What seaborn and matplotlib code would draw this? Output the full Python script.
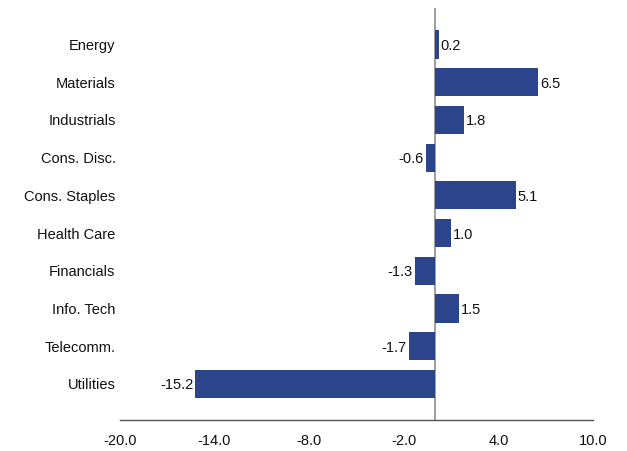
import matplotlib
matplotlib.use("Agg")
import matplotlib.pyplot as plt
import seaborn as sns
import pandas as pd

sectors = ["Energy", "Materials", "Industrials", "Cons. Disc.", "Cons. Staples",
           "Health Care", "Financials", "Info. Tech", "Telecomm.", "Utilities"]
values = [0.2, 6.5, 1.8, -0.6, 5.1, 1.0, -1.3, 1.5, -1.7, -15.2]
xticks = [-20.0, -14.0, -8.0, -2.0, 4.0, 10.0]

sns.set_theme(style="white")
plt.rcParams["font.family"] = ["Liberation Sans", "DejaVu Sans"]

df = pd.DataFrame({"sector": sectors, "value": values})

fig = plt.figure(figsize=(6.27, 4.51), dpi=100)
ax = fig.add_axes([0.191, 0.068, 0.755, 0.915])

sns.barplot(data=df, x="value", y="sector", orient="h", color="#2B448C",
            saturation=1, width=0.75, linewidth=0, ax=ax)

ax.set_xlim(-20, 10)
ax.set_ylim(9.97, -0.98)
ax.axvline(0, color="#8c8c8c", lw=1.2, zorder=0)

fs = 10.5
for i, v in enumerate(values):
    if v >= 0:
        ax.text(v + 0.12, i + 0.04, f"{v:.1f}", va="center", ha="left", fontsize=fs, color="#111111")
    else:
        ax.text(v - 0.12, i + 0.04, f"{v:.1f}", va="center", ha="right", fontsize=fs, color="#111111")

ax.set_xticks(xticks)
ax.set_xticklabels([f"{t:.1f}" for t in xticks], fontsize=fs, color="#111111")
ax.tick_params(axis="x", length=0, pad=10)
ax.tick_params(axis="y", length=0, pad=3, labelsize=fs, labelcolor="#111111")
ax.set_xlabel("")
ax.set_ylabel("")
for s in ["top", "right", "left"]:
    ax.spines[s].set_visible(False)
ax.spines["bottom"].set_color("#555555")
ax.spines["bottom"].set_linewidth(1.0)

fig.savefig("out.png", dpi=100)
